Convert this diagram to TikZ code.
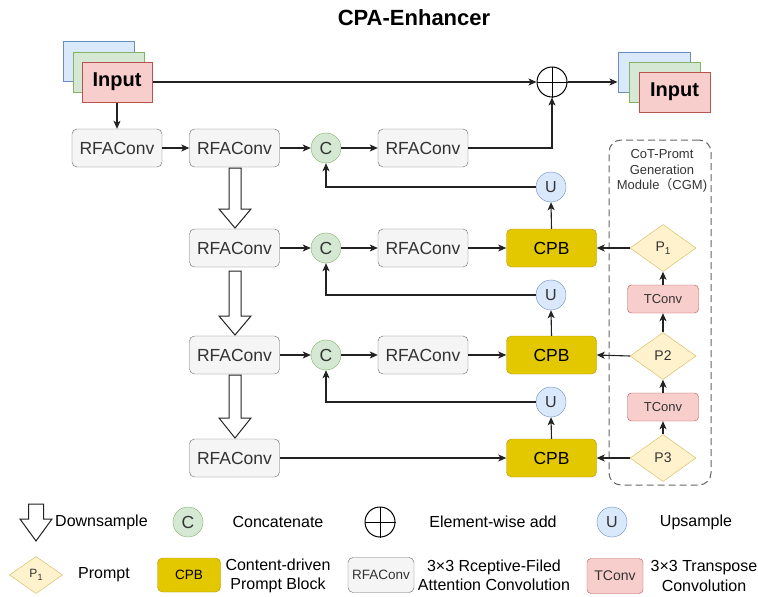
\documentclass[tikz,border=0pt]{standalone}
\usepackage{fontspec}
\setmainfont{Liberation Sans}
\newfontfamily\cjk{Noto Sans CJK SC}
\usetikzlibrary{shapes.geometric,arrows.meta,calc}

\definecolor{rfafill}{HTML}{F5F5F5}
\definecolor{rfaline}{HTML}{666666}
\definecolor{rfatext}{HTML}{333333}
\definecolor{grfill}{HTML}{D5E8D4}
\definecolor{grline}{HTML}{82B366}
\definecolor{blfill}{HTML}{DAE8FC}
\definecolor{blline}{HTML}{6C8EBF}
\definecolor{rdfill}{HTML}{F8CECC}
\definecolor{rdline}{HTML}{B85450}
\definecolor{cpbfill}{HTML}{E3C800}
\definecolor{cpbline}{HTML}{B09500}
\definecolor{prfill}{HTML}{FFF2CC}
\definecolor{prline}{HTML}{D6B656}
\definecolor{wire}{HTML}{222222}

\newcommand\fsz[1]{\fontsize{#1pt}{1.2\dimexpr#1pt\relax}\selectfont}
% hollow downward block arrow: x, top, head start, tip, shaft half width, head half width
\newcommand\DownShape[6]{%
  \draw[dsarrow] (#1-#5,#2) -- (#1+#5,#2) -- (#1+#5,#3) -- (#1+#6,#3) -- (#1,#4)
    -- (#1-#6,#3) -- (#1-#5,#3) -- cycle;}

\tikzset{
  rfa/.style={draw=rfaline, fill=rfafill, text=rfatext, rounded corners=5pt,
    minimum width=90pt, minimum height=38pt, inner sep=0pt, font=\fsz{17.5}},
  cat/.style={circle, draw=grline, fill=grfill, minimum size=30pt, inner sep=0pt,
    text=rfatext, font=\fsz{17.5}},
  ups/.style={circle, draw=blline, fill=blfill, minimum size=30pt, inner sep=0pt,
    text=rfatext, font=\fsz{16}},
  addop/.style={circle, draw=black, minimum size=30pt, inner sep=0pt, line width=1pt},
  cpb/.style={draw=cpbline, fill=cpbfill, rounded corners=5pt,
    minimum width=90pt, minimum height=38pt, inner sep=0pt, font=\fsz{17.5}},
  prm/.style={diamond, aspect=1.4, draw=prline, fill=prfill, minimum width=66pt,
    minimum height=47pt, inner sep=0pt, text=rfatext, font=\fsz{14}},
  tcv/.style={draw=rdline, fill=rdfill, rounded corners=4pt, minimum width=71pt,
    minimum height=28pt, inner sep=0pt, text=rfatext, font=\fsz{13}},
  layer/.style={draw=#1line, fill=#1fill, line width=1pt},
  link/.style={draw=wire, line width=1.1pt, -{Stealth[length=8pt,width=7pt,inset=2pt]}},
  plain/.style={draw=wire, line width=1.1pt},
  dsarrow/.style={draw=wire, fill=white, line width=1pt, line join=miter},
  lbl/.style={font=\fsz{16}, text=black, inner sep=0pt},
}

\begin{document}
\begin{tikzpicture}[x=1pt, y=-1pt]
\useasboundingbox (0,0) rectangle (758,597);

% title
\node[font=\bfseries\fsz{22}] (title) at (414,18) {CPA-Enhancer};

% input stack
\draw[layer=bl] (63,41) rectangle (134,81);
\draw[layer=gr] (73,52) rectangle (144,92);
\node[layer=rd, minimum width=70pt, minimum height=40pt, inner sep=0pt,
  font=\bfseries\fsz{20}] (inR) at (117,82) {Input};

% output stack
\node[layer=bl, minimum width=72pt, minimum height=40pt, inner sep=0pt] (outB) at (654,72) {};
\draw[layer=gr] (629,62) rectangle (700,102);
\node[layer=rd, minimum width=71pt, minimum height=40pt, inner sep=0pt,
  font=\bfseries\fsz{20}] (outR) at (674.5,92) {Input};

% element-wise add
\node[addop] (add) at (552,82) {};
\draw[line width=1pt] (add.north) -- (add.south) (add.west) -- (add.east);

% level 1
\node[rfa] (r1a) at (117,148) {RFAConv};
\node[rfa] (r1b) at (234.5,148) {RFAConv};
\node[cat] (c1) at (326,148) {C};
\node[rfa] (r1c) at (423,148) {RFAConv};
\node[ups] (u1) at (551,187) {U};

% level 2
\node[rfa] (r2a) at (234.5,248) {RFAConv};
\node[cat] (c2) at (326,248) {C};
\node[rfa] (r2c) at (423,248) {RFAConv};
\node[cpb] (b1) at (551.5,248) {CPB};
\node[ups] (u2) at (551,295) {U};

% level 3
\node[rfa] (r3a) at (234.5,355) {RFAConv};
\node[cat] (c3) at (326,355) {C};
\node[rfa] (r3c) at (423,355) {RFAConv};
\node[cpb] (b2) at (551.5,355) {CPB};
\node[ups] (u3) at (551,402) {U};

% level 4
\node[rfa] (r4a) at (234.5,458) {RFAConv};
\node[cpb] (b3) at (551.5,458) {CPB};

% CoT-prompt generation module
\node[draw=rfaline, dashed, dash pattern=on 7pt off 4pt, line width=1pt, rounded corners=12pt,
  minimum width=102pt, minimum height=345pt, inner sep=0pt] (cgm) at (660,312.5) {};
\node[font=\fsz{13}, text=rfatext, align=center, inner sep=0pt] (cgmlbl) at (662,171)
  {CoT-Promt\\Generation\\Module{\cjk （}CGM)};
\node[prm] (p1) at (663,248) {P{\fsz{10}\raisebox{-3pt}{1}}};
\node[tcv] (t1) at (663,299) {TConv};
\node[prm] (p2) at (663,356) {P2};
\node[tcv] (t2) at (663,407) {TConv};
\node[prm] (p3) at (663,458) {P3};

% connectors
\draw[link] (inR.south) -- (r1a.north);
\draw[link] (inR.east) -- (add.west);
\draw[link] (add.east) -- (add.east -| outB.west);
\draw[link] (r1a) -- (r1b);
\draw[link] (r1b) -- (c1);
\draw[link] (c1) -- (r1c);
\draw[link] (r1c.east) -| (add.south);
\draw[link] (u1.west) -| (c1.south);
\draw[link] (b1.north) -- (u1.south);

\draw[link] (r2a) -- (c2);
\draw[link] (c2) -- (r2c);
\draw[link] (r2c) -- (b1);
\draw[link] (u2.west) -| (c2.south);
\draw[link] (b2.north) -- (u2.south);

\draw[link] (r3a) -- (c3);
\draw[link] (c3) -- (r3c);
\draw[link] (r3c) -- (b2);
\draw[link] (u3.west) -| (c3.south);
\draw[link] (b3.north) -- (u3.south);

\draw[link] (r4a) -- (b3);

\draw[link] (p1.west) -- (b1.east);
\draw[link] (p2.west) -- (b2.east);
\draw[link] (p3.west) -- (b3.east);
\draw[link] (t1.north) -- (p1.south);
\draw[link] (p2.north) -- (t1.south);
\draw[link] (t2.north) -- (p2.south);
\draw[link] (p3.north) -- (t2.south);

% downsampling between levels
\DownShape{235}{168}{209}{228}{6}{16}
\DownShape{235}{271}{316}{335}{6}{16}
\DownShape{235}{375}{418}{438}{6}{16}

% legend, first row
\DownShape{36}{504}{519}{541}{7.5}{16}
\node[lbl, anchor=west] (lgds) at (55,522) {Downsample};
\node[cat] (lgc) at (188,522) {C};
\node[lbl] (lgct) at (278,522) {Concatenate};
\node[addop] (lgadd) at (380,522) {};
\draw[line width=1pt] (lgadd.north) -- (lgadd.south) (lgadd.west) -- (lgadd.east);
\node[lbl] (lgaddt) at (493,522) {Element-wise add};
\node[ups] (lgu) at (612,522) {U};
\node[lbl] (lgut) at (696,522) {Upsample};

% legend, second row
\node[prm, minimum width=53pt, minimum height=37pt, font=\fsz{12}] (lgp) at (36,575)
  {P{\fsz{9}\raisebox{-3pt}{1}}};
\node[lbl] (lgpt) at (104,575) {Prompt};
\node[cpb, minimum width=63pt, minimum height=34pt, font=\fsz{13.5}] (lgb) at (189,575) {CPB};
\node[lbl, align=center] (lgbt) at (278,575.5) {Content-driven\\Prompt Block};
\node[rfa, minimum width=66pt, minimum height=35pt, font=\fsz{13.5}] (lgr) at (381,575) {RFAConv};
\node[lbl, align=center] (lgrt) at (494,575) {3×3 Rceptive-Filed\\Attention Convolution};
\node[tcv, minimum width=56pt, minimum height=35pt, font=\fsz{14}] (lgt) at (615,576) {TConv};
\node[lbl, align=center] (lgtt) at (704,576) {3×3 Transpose\\Convolution};
\end{tikzpicture}
\end{document}
